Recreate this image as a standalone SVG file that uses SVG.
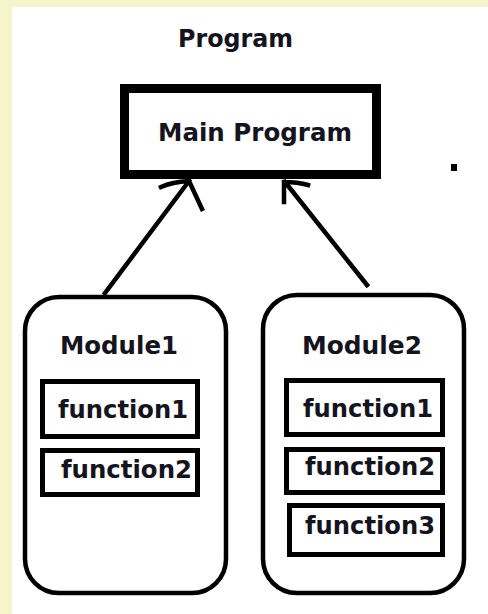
<svg xmlns="http://www.w3.org/2000/svg" width="488" height="614" viewBox="0 0 488 614">
<defs>
<style>
.t{font-family:"DejaVu Sans",Verdana,sans-serif;font-weight:bold;font-size:25px;fill:#141420}
.mod{fill:#fff;stroke:#000;stroke-width:4.5}
.fn{fill:#fff;stroke:#000;stroke-width:5}
.ln{fill:none;stroke:#000;stroke-width:4.5;stroke-linecap:square}
</style>
</defs>
<rect x="0" y="0" width="488" height="614" fill="#f5f5cc"/>
<rect x="12" y="7" width="476" height="607" fill="#fff"/>
<text class="t" x="178" y="47" textLength="115" lengthAdjust="spacingAndGlyphs">Program</text>
<g id="main">
<rect x="124.5" y="88.5" width="252" height="86" fill="#fff" stroke="#000" stroke-width="9"/>
<text class="t" x="158" y="141" textLength="194" lengthAdjust="spacingAndGlyphs">Main Program</text>
</g>
<rect x="451" y="164" width="6" height="7" fill="#000"/>
<g id="connectors">
<path class="ln" d="M105 293 L189 181 M189 181 Q172 182 161 187 M189 181 L202 209"/>
<path class="ln" d="M367 285 L285 182 M284 182 L284 202 M284 182 Q298 182 308 185"/>
</g>
<g id="module1">
<rect class="mod" x="25" y="297" width="201" height="296" rx="34"/>
<text class="t" x="60" y="354" textLength="118" lengthAdjust="spacingAndGlyphs">Module1</text>
<g id="m1f1"><rect class="fn" x="42.5" y="381.5" width="155" height="55"/>
<text class="t" x="58" y="418" textLength="130" lengthAdjust="spacingAndGlyphs">function1</text></g>
<g id="m1f2"><rect class="fn" x="42.5" y="450.5" width="155" height="44"/>
<text class="t" x="61" y="478" textLength="131" lengthAdjust="spacingAndGlyphs">function2</text></g>
</g>
<g id="module2">
<rect class="mod" x="263" y="295" width="201" height="298" rx="34"/>
<text class="t" x="302" y="354" textLength="120" lengthAdjust="spacingAndGlyphs">Module2</text>
<g id="m2f1"><rect class="fn" x="286.5" y="380.5" width="156" height="54"/>
<text class="t" x="303" y="417" textLength="130" lengthAdjust="spacingAndGlyphs">function1</text></g>
<g id="m2f2"><rect class="fn" x="286.5" y="449.5" width="156" height="43"/>
<text class="t" x="305" y="475" textLength="130" lengthAdjust="spacingAndGlyphs">function2</text></g>
<g id="m2f3"><rect class="fn" x="289.5" y="505.5" width="153" height="49"/>
<text class="t" x="305" y="534" textLength="130" lengthAdjust="spacingAndGlyphs">function3</text></g>
</g>
</svg>
